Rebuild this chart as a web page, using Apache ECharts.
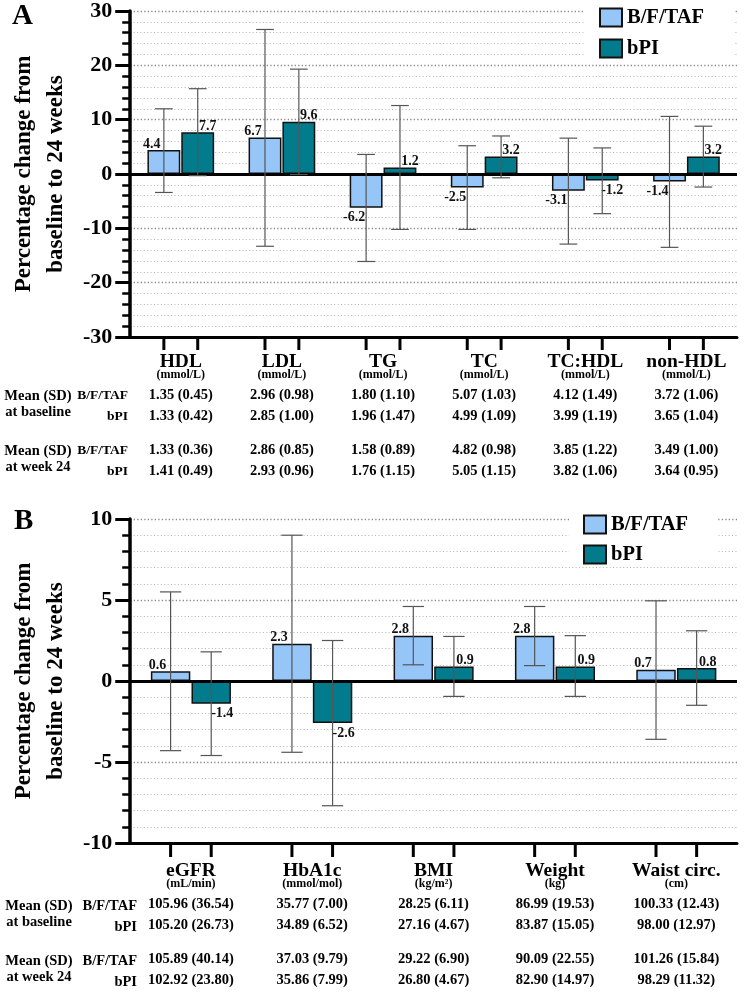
<!DOCTYPE html>
<html><head><meta charset="utf-8">
<script src="https://cdn.jsdelivr.net/npm/echarts@6/dist/echarts.min.js"></script>
<style>html,body{margin:0;padding:0;background:#fff}#c{width:744px;height:997px}</style>
</head><body><div id="c"></div>
<script>
const FONT = '"Liberation Serif","Times New Roman",serif';
const SERIES_NAMES = ['B/F/TAF', 'bPI'];

// Panel A: lipids
const lipidCats = ['HDL', 'LDL', 'TG', 'TC', 'TC:HDL', 'non-HDL'];
const lipidUnits = ['(mmol/L)', '(mmol/L)', '(mmol/L)', '(mmol/L)', '(mmol/L)', '(mmol/L)'];
const lipidBFTAF = [4.4, 6.7, -6.2, -2.5, -3.1, -1.4];
const lipidBPI = [7.7, 9.6, 1.2, 3.2, -1.2, 3.2];
const lipidBFTAFLow = [-3.4, -13.3, -16.1, -10.2, -12.9, -13.5];
const lipidBFTAFHigh = [12.0, 26.6, 3.6, 5.2, 6.6, 10.6];
const lipidBPILow = [-0.3, -0.1, -10.2, -0.7, -7.3, -2.4];
const lipidBPIHigh = [15.7, 19.3, 12.6, 7.0, 4.8, 8.8];
const lipidBaseBFTAF = ['1.35 (0.45)', '2.96 (0.98)', '1.80 (1.10)', '5.07 (1.03)', '4.12 (1.49)', '3.72 (1.06)'];
const lipidBaseBPI = ['1.33 (0.42)', '2.85 (1.00)', '1.96 (1.47)', '4.99 (1.09)', '3.99 (1.19)', '3.65 (1.04)'];
const lipidWk24BFTAF = ['1.33 (0.36)', '2.86 (0.85)', '1.58 (0.89)', '4.82 (0.98)', '3.85 (1.22)', '3.49 (1.00)'];
const lipidWk24BPI = ['1.41 (0.49)', '2.93 (0.96)', '1.76 (1.15)', '5.05 (1.15)', '3.82 (1.06)', '3.64 (0.95)'];

// Panel B: other parameters
const otherCats = ['eGFR', 'HbA1c', 'BMI', 'Weight', 'Waist circ.'];
const otherUnits = ['(mL/min)', '(mmol/mol)', '(kg/m²)', '(kg)', '(cm)'];
const otherBFTAF = [0.6, 2.3, 2.8, 2.8, 0.7];
const otherBPI = [-1.4, -2.6, 0.9, 0.9, 0.8];
const otherBFTAFLow = [-4.3, -4.4, 1.0, 0.95, -3.6];
const otherBFTAFHigh = [5.5, 9.0, 4.6, 4.6, 4.95];
const otherBPILow = [-4.6, -7.7, -0.95, -0.95, -1.5];
const otherBPIHigh = [1.8, 2.5, 2.75, 2.8, 3.1];
const otherBaseBFTAF = ['105.96 (36.54)', '35.77 (7.00)', '28.25 (6.11)', '86.99 (19.53)', '100.33 (12.43)'];
const otherBaseBPI = ['105.20 (26.73)', '34.89 (6.52)', '27.16 (4.67)', '83.87 (15.05)', '98.00 (12.97)'];
const otherWk24BFTAF = ['105.89 (40.14)', '37.03 (9.79)', '29.22 (6.90)', '90.09 (22.55)', '101.26 (15.84)'];
const otherWk24BPI = ['102.92 (23.80)', '35.86 (7.99)', '26.80 (4.67)', '82.90 (14.97)', '98.29 (11.32)'];

const yTicksA = {min: -30, max: 30, interval: 10};
const yTicksB = {min: -10, max: 10, interval: 5};

const COLOR_A = '#96C6F8';
const COLOR_B = '#027C8C';
const BAR_W = 0.325;
const BAR_GAP = 0.03;

const chart = echarts.init(document.getElementById('c'));

function barSeries(name, idx, vals, color, dx) {
  return {
    type: 'bar', name, xAxisIndex: idx, yAxisIndex: idx,
    barWidth: (BAR_W * 100) + '%', barGap: (BAR_GAP * 100) + '%',
    itemStyle: {color, borderColor: '#111', borderWidth: 1.5},
    label: {show: true, fontFamily: FONT, fontWeight: 'bold', fontSize: 14, color: '#111',
      offset: [dx, 0], formatter: p => Number(p.value).toFixed(1)},
    data: vals.map(v => ({value: v, label: {position: v < 0 ? 'bottom' : 'top', distance: v < 0 ? 3 : -1}})),
    z: 3
  };
}
function zeroLine() {
  return {silent: true, symbol: 'none', label: {show: false},
    lineStyle: {color: '#000', width: 3, type: 'solid'}, data: [{yAxis: 0}]};
}
function errorSeries(idx, lows, highs, side) {
  return {
    type: 'custom', xAxisIndex: idx, yAxisIndex: idx, silent: true, clip: false, z: 6,
    data: lows.map((l, i) => [i, l, highs[i]]),
    renderItem(params, api) {
      const band = api.size([1, 0])[0];
      const bw = band * BAR_W, gap = bw * BAR_GAP;
      const off = side * (bw + gap) / 2;
      const lo = api.coord([api.value(0), api.value(1)]);
      const hi = api.coord([api.value(0), api.value(2)]);
      const x = lo[0] + off, hw = bw * 0.27;
      const st = {stroke: '#555', lineWidth: 1.2};
      return {type: 'group', children: [
        {type: 'line', shape: {x1: x, y1: lo[1], x2: x, y2: hi[1]}, style: st},
        {type: 'line', shape: {x1: x - hw, y1: lo[1], x2: x + hw, y2: lo[1]}, style: st},
        {type: 'line', shape: {x1: x - hw, y1: hi[1], x2: x + hw, y2: hi[1]}, style: st}
      ]};
    }
  };
}
function tickSeries(idx, cats, yMin, len) {
  return {
    type: 'custom', xAxisIndex: idx, yAxisIndex: idx, silent: true, clip: false, z: 6,
    data: cats.map((c, i) => [i, yMin]),
    renderItem(params, api) {
      const band = api.size([1, 0])[0];
      const bw = band * BAR_W, gap = bw * BAR_GAP;
      const off = (bw + gap) / 2;
      const p = api.coord([api.value(0), api.value(1)]);
      const st = {stroke: '#000', lineWidth: 3};
      return {type: 'group', children: [
        {type: 'line', shape: {x1: p[0] - off, y1: p[1], x2: p[0] - off, y2: p[1] + len}, style: st},
        {type: 'line', shape: {x1: p[0] + off, y1: p[1], x2: p[0] + off, y2: p[1] + len}, style: st}
      ]};
    }
  };
}
const richStyles = {
  t: {fontFamily: FONT, fontWeight: 'bold', fontSize: 19.5, lineHeight: 17, color: '#000'},
  u: {fontFamily: FONT, fontWeight: 'bold', fontSize: 12, lineHeight: 10, color: '#000'},
  s1: {fontSize: 4, lineHeight: 4.5},
  s2: {fontSize: 4, lineHeight: 13},
  r: {fontFamily: FONT, fontWeight: 'bold', fontSize: 14.5, lineHeight: 21, color: '#000'}
};
function xAxis(idx, cats, units, b1, b2, w1, w2, margin) {
  return {
    gridIndex: idx, type: 'category', data: cats,
    axisLine: {onZero: false, lineStyle: {color: '#000', width: 3}},
    axisTick: {show: false},
    axisLabel: {interval: 0, margin, hideOverlap: false,
      formatter: (v, i) => `{t|${v}}\n{u|${units[i]}}\n{s1| }\n{r|${b1[i]}}\n{r|${b2[i]}}\n{s2| }\n{r|${w1[i]}}\n{r|${w2[i]}}`,
      rich: richStyles}
  };
}
function yAxis(idx, t) {
  return {
    gridIndex: idx, type: 'value', min: t.min, max: t.max, interval: t.interval,
    axisLine: {show: true, onZero: false, lineStyle: {color: '#000', width: 3.5}},
    axisTick: {show: true, length: 15, lineStyle: {color: '#000', width: 3}},
    minorTick: {show: true, splitNumber: 5, length: 8, lineStyle: {color: '#000', width: 2.5}},
    splitLine: {show: true, lineStyle: {color: '#8a8a8a', width: 1.3, type: [1.3, 2.2]}},
    minorSplitLine: {show: true, lineStyle: {color: '#b4b4b4', width: 1, type: [1, 2.4]}},
    axisLabel: {fontFamily: FONT, fontWeight: 'bold', fontSize: 22, color: '#000', margin: 18},
    name: 'Percentage change from\nbaseline to 24 weeks', nameLocation: 'middle', nameGap: 57,
    nameTextStyle: {fontFamily: FONT, fontWeight: 'bold', fontSize: 23, lineHeight: 32, color: '#000'}
  };
}
function legend(left, top, gap) {
  return {
    data: SERIES_NAMES, orient: 'vertical', left, top, icon: 'rect', itemWidth: 22, itemHeight: 18,
    itemGap: gap, backgroundColor: '#fff', padding: [2, 30, 2, 14], selectedMode: false,
    textStyle: {fontFamily: FONT, fontWeight: 'bold', fontSize: 20.5, color: '#000'}
  };
}
function txt(text, x, y, size, align, extra) {
  return Object.assign({type: 'text', silent: true, style: {
    text, x, y, fontFamily: FONT, fontWeight: 'bold', fontSize: size, fill: '#000',
    align, verticalAlign: 'middle', textAlign: align, textVerticalAlign: 'middle', lineHeight: 16
  }}, extra || {});
}

const option = {
  animation: false,
  backgroundColor: '#fff',
  grid: [
    {left: 123, top: 11, width: 614, height: 326},
    {left: 124, top: 519, width: 613, height: 324}
  ],
  legend: [legend(585, 5, 10), legend(569, 512, 9)],
  xAxis: [
    xAxis(0, lipidCats, lipidUnits, lipidBaseBFTAF, lipidBaseBPI, lipidWk24BFTAF, lipidWk24BPI, 16),
    xAxis(1, otherCats, otherUnits, otherBaseBFTAF, otherBaseBPI, otherWk24BFTAF, otherWk24BPI, 19)
  ],
  yAxis: [yAxis(0, yTicksA), yAxis(1, yTicksB)],
  series: [
    barSeries(SERIES_NAMES[0], 0, lipidBFTAF, COLOR_A, -12),
    Object.assign(barSeries(SERIES_NAMES[1], 0, lipidBPI, COLOR_B, 10), {markLine: zeroLine()}),
    errorSeries(0, lipidBFTAFLow, lipidBFTAFHigh, -1),
    errorSeries(0, lipidBPILow, lipidBPIHigh, 1),
    tickSeries(0, lipidCats, yTicksA.min, 13),
    barSeries(SERIES_NAMES[0], 1, otherBFTAF, COLOR_A, -13),
    Object.assign(barSeries(SERIES_NAMES[1], 1, otherBPI, COLOR_B, 11), {markLine: zeroLine()}),
    errorSeries(1, otherBFTAFLow, otherBFTAFHigh, -1),
    errorSeries(1, otherBPILow, otherBPIHigh, 1),
    tickSeries(1, otherCats, yTicksB.min, 14)
  ],
  graphic: [
    txt('A', 12, 17, 29, 'left'),
    txt('B', 14, 522, 29, 'left'),
    txt('Mean (SD)\nat baseline', 38, 404, 14.5, 'center'),
    txt('B/F/TAF', 128, 396, 13.5, 'right'),
    txt('bPI', 128, 417, 13.5, 'right'),
    txt('Mean (SD)\nat week 24', 38, 459, 14.5, 'center'),
    txt('B/F/TAF', 128, 451, 13.5, 'right'),
    txt('bPI', 128, 472, 13.5, 'right'),
    txt('Mean (SD)\nat baseline', 39, 914, 14.5, 'center'),
    txt('B/F/TAF', 137, 906, 14.5, 'right'),
    txt('bPI', 137, 927, 14.5, 'right'),
    txt('Mean (SD)\nat week 24', 39, 969, 14.5, 'center'),
    txt('B/F/TAF', 137, 961, 14.5, 'right'),
    txt('bPI', 137, 982, 14.5, 'right')
  ]
};
chart.setOption(option);
</script></body></html>
